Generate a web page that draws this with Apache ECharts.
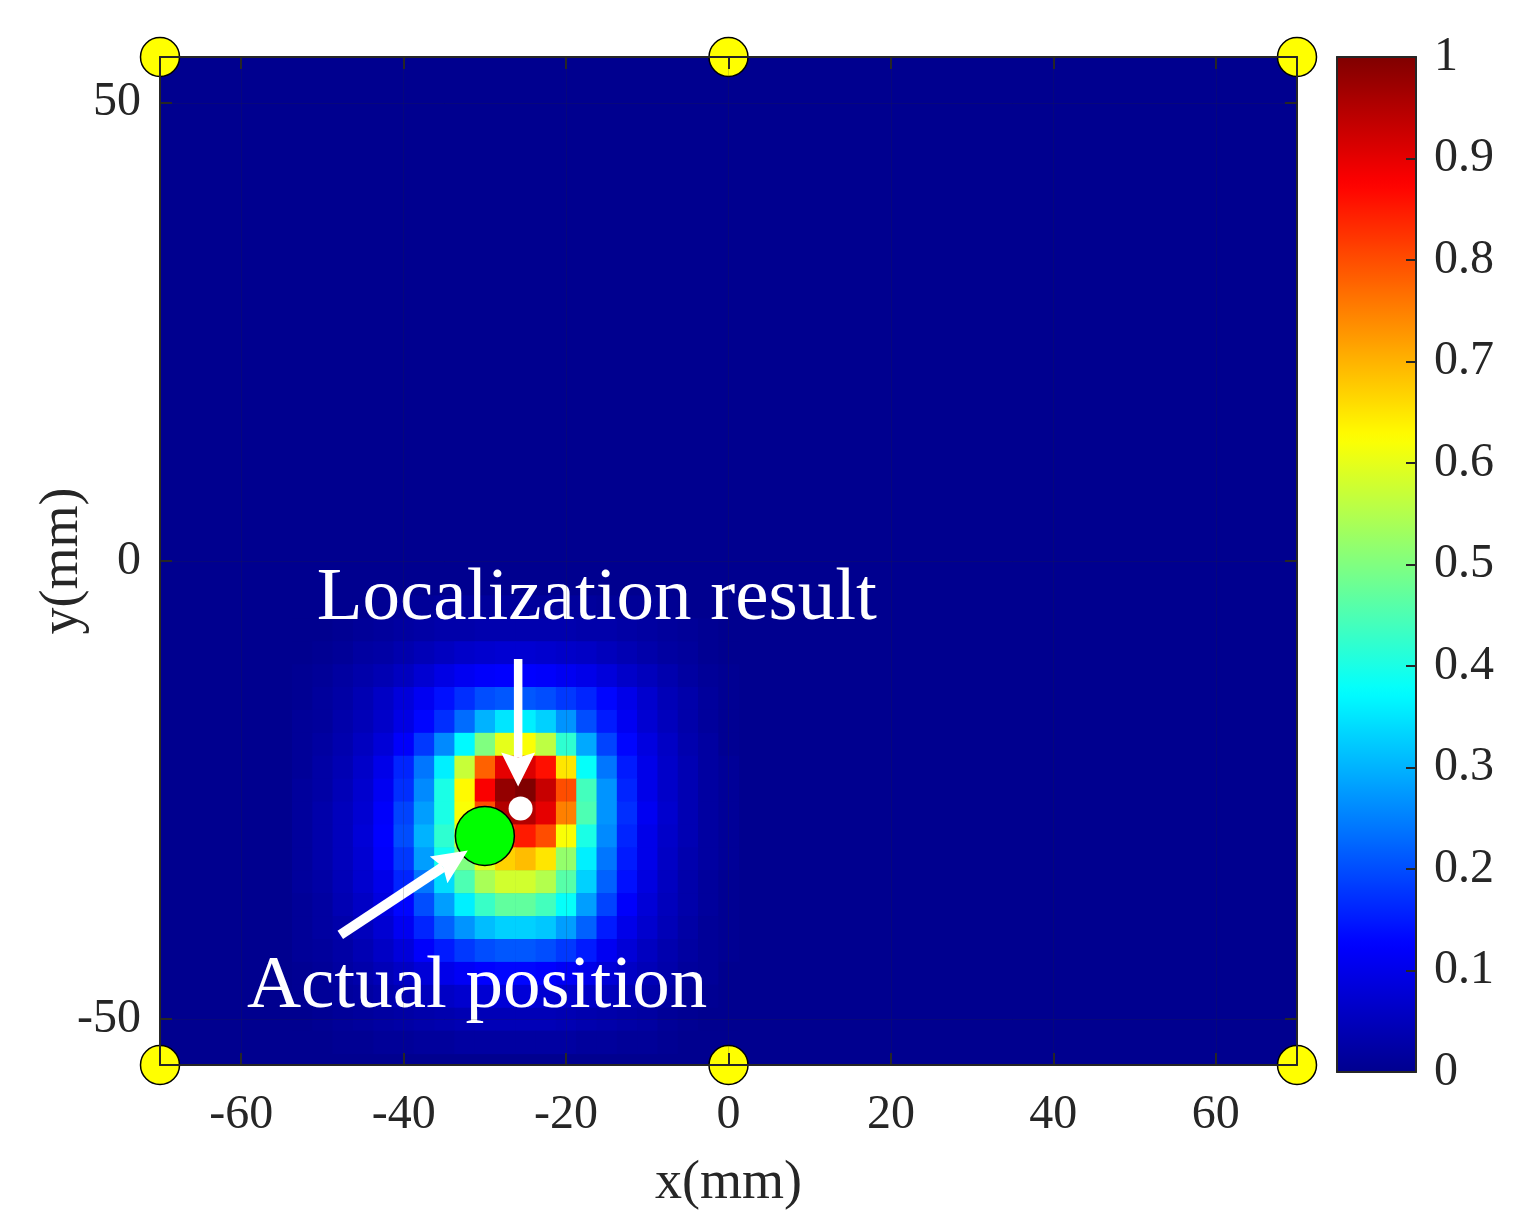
<!DOCTYPE html>
<html>
<head>
<meta charset="utf-8">
<script src="https://cdn.jsdelivr.net/npm/echarts@6/dist/echarts.min.js"></script>
<style>
html,body{margin:0;padding:0;background:#ffffff;}
#chart{width:1516px;height:1222px;}
</style>
</head>
<body>
<div id="chart"></div>
<script>
// ---------------- data ----------------
const cellStep = 2.5;
const cellX = [-52.5,-50,-47.5,-45,-42.5,-40,-37.5,-35,-32.5,-30,-27.5,-25,-22.5,-20,-17.5,-15,-12.5,-10,-7.5,-5,-2.5,0];
const cellY = [-5,-7.5,-10,-12.5,-15,-17.5,-20,-22.5,-25,-27.5,-30,-32.5,-35,-37.5,-40,-42.5,-45,-47.5,-50,-52.5];
const intensityRows = [
  [0,0,0,0,0.005,0.01,0.01,0.015,0.015,0.015,0.015,0.015,0.015,0.015,0.015,0.01,0.01,0.01,0.005,0,0,0],
  [0,0,0.005,0.01,0.015,0.02,0.025,0.03,0.03,0.035,0.035,0.035,0.035,0.035,0.03,0.03,0.025,0.02,0.015,0.01,0.005,0],
  [0,0.005,0.01,0.02,0.025,0.035,0.045,0.055,0.065,0.07,0.075,0.075,0.07,0.065,0.06,0.05,0.04,0.03,0.02,0.015,0.005,0],
  [0.005,0.01,0.02,0.03,0.04,0.055,0.075,0.095,0.11,0.12,0.125,0.125,0.12,0.11,0.1,0.085,0.065,0.05,0.035,0.02,0.01,0.005],
  [0.005,0.015,0.025,0.04,0.06,0.085,0.11,0.14,0.17,0.2,0.21,0.21,0.2,0.18,0.16,0.13,0.1,0.07,0.045,0.03,0.015,0.005],
  [0.01,0.015,0.03,0.045,0.065,0.095,0.13,0.17,0.23,0.3,0.35,0.36,0.33,0.27,0.2,0.15,0.11,0.075,0.05,0.03,0.015,0.005],
  [0.01,0.02,0.035,0.055,0.08,0.12,0.18,0.26,0.37,0.5,0.6,0.62,0.56,0.42,0.29,0.19,0.13,0.09,0.06,0.035,0.02,0.005],
  [0.01,0.025,0.04,0.065,0.1,0.16,0.24,0.36,0.57,0.78,0.9,0.91,0.86,0.65,0.38,0.24,0.15,0.1,0.065,0.04,0.02,0.01],
  [0.015,0.025,0.045,0.07,0.11,0.17,0.26,0.4,0.63,0.88,0.98,1.0,0.93,0.8,0.44,0.27,0.16,0.1,0.065,0.04,0.02,0.01],
  [0.015,0.03,0.05,0.075,0.12,0.19,0.28,0.4,0.62,0.8,0.95,0.95,0.9,0.75,0.45,0.27,0.17,0.11,0.07,0.04,0.02,0.01],
  [0.015,0.03,0.05,0.08,0.125,0.2,0.3,0.42,0.58,0.72,0.83,0.85,0.8,0.62,0.4,0.26,0.16,0.1,0.065,0.04,0.02,0.01],
  [0.015,0.03,0.05,0.075,0.12,0.18,0.28,0.39,0.5,0.6,0.67,0.69,0.65,0.52,0.36,0.24,0.15,0.1,0.06,0.035,0.02,0.01],
  [0.015,0.025,0.045,0.07,0.1,0.16,0.24,0.34,0.45,0.54,0.58,0.58,0.55,0.46,0.33,0.22,0.14,0.09,0.055,0.03,0.015,0.005],
  [0.01,0.02,0.04,0.06,0.09,0.13,0.2,0.28,0.36,0.43,0.47,0.47,0.44,0.38,0.28,0.19,0.12,0.08,0.05,0.03,0.015,0.005],
  [0.01,0.02,0.03,0.05,0.075,0.11,0.16,0.22,0.27,0.31,0.33,0.33,0.32,0.28,0.22,0.15,0.1,0.07,0.045,0.025,0.01,0.005],
  [0.01,0.015,0.025,0.04,0.06,0.085,0.12,0.15,0.18,0.2,0.21,0.21,0.2,0.18,0.15,0.11,0.08,0.055,0.035,0.02,0.01,0.005],
  [0.005,0.01,0.02,0.03,0.045,0.06,0.08,0.1,0.115,0.125,0.13,0.13,0.125,0.115,0.1,0.08,0.06,0.045,0.03,0.015,0.01,0],
  [0.005,0.01,0.015,0.02,0.03,0.04,0.05,0.06,0.07,0.075,0.08,0.08,0.075,0.07,0.06,0.05,0.04,0.03,0.02,0.01,0.005,0],
  [0,0.005,0.01,0.015,0.02,0.025,0.03,0.035,0.04,0.045,0.045,0.045,0.045,0.04,0.035,0.03,0.025,0.02,0.01,0.005,0,0],
  [0,0,0.005,0.005,0.01,0.01,0.015,0.015,0.02,0.02,0.02,0.02,0.02,0.02,0.015,0.015,0.01,0.01,0.005,0,0,0]
];
const xRange = [-70, 70];
const yRange = [-55, 55];
const xTicks = [-60,-40,-20,0,20,40,60];
const yTicks = [-50,0,50];
const colorRange = [0, 1];
const colorTickStep = 0.1;
const sensorX = [-70, 0, 70, -70, 0, 70];
const sensorY = [55, 55, 55, -55, -55, -55];
const actualPos = [-30, -30];
const estimatedPos = [-25.6, -27];
const arrowFromX = [-25.9, -47.8];
const arrowFromY = [-10.7, -40.8];
const arrowToX = [-25.9, -32.1];
const arrowToY = [-24.6, -31.6];
const noteText = ['Localization result', 'Actual position'];
const noteX = [-50.7, -59.3];
const noteY = [-4.15, -46.5];

// ---------------- styles ----------------
const FONT = '"Liberation Serif", "Times New Roman", serif';
const INK = '#262626';
const jet = ['#00008F','#0000FF','#0080FF','#00FFFF','#80FF80','#FFFF00','#FF8000','#FF0000','#800000'];
const arrowStyle = [
  {shaft: 8.5, headLen: 34, headWid: 34},
  {shaft: 10, headLen: 35, headWid: 32}
];

// ---------------- build series data ----------------
const heatData = [];
cellY.forEach((y, r) => {
  cellX.forEach((x, c) => heatData.push([x, y, intensityRows[r][c]]));
});
const sensorData = sensorX.map((x, i) => [x, sensorY[i]]);
const arrowData = arrowFromX.map((x, i) => [x, arrowFromY[i], arrowToX[i], arrowToY[i]]);
const noteData = noteX.map((x, i) => [x, noteY[i], i]);

const chart = echarts.init(document.getElementById('chart'), null, {renderer: 'canvas'});

const boxAxis = (extra) => Object.assign({
  type: 'value', z: 10, silent: true,
  axisLine: {show: true, onZero: false, lineStyle: {color: INK, width: 2}},
  axisTick: {show: false}, axisLabel: {show: false}, splitLine: {show: false}
}, extra);

const option = {
  animation: false,
  backgroundColor: '#ffffff',
  textStyle: {fontFamily: FONT},
  grid: [
    {left: 160, top: 57, width: 1137, height: 1008, show: true, backgroundColor: '#00008F', borderWidth: 0, outerBoundsMode: 'none'},
    {left: 1337, top: 57, width: 79, height: 1015, show: false, outerBoundsMode: 'none'}
  ],
  visualMap: {
    type: 'continuous', min: colorRange[0], max: colorRange[1], dimension: 2, seriesIndex: 0,
    orient: 'vertical', left: 1337, top: 57, itemWidth: 79, itemHeight: 1015, padding: 0,
    calculable: false, hoverLink: false, text: null, showLabel: false,
    inRange: {color: jet}
  },
  xAxis: [
    boxAxis({
      gridIndex: 0, position: 'bottom', min: xRange[0], max: xRange[1],
      axisTick: {show: true, inside: true, length: 12, customValues: xTicks, lineStyle: {color: INK, width: 2}},
      axisLabel: {show: true, customValues: xTicks, margin: 26, color: INK, fontSize: 48, fontFamily: FONT},
      splitLine: {show: true, lineStyle: {color: 'rgba(38,38,38,0.18)', width: 1}},
      name: 'x(mm)', nameLocation: 'middle', nameGap: 92, nameMoveOverlap: false,
      nameTextStyle: {color: INK, fontSize: 54, fontFamily: FONT}
    }),
    boxAxis({
      gridIndex: 0, position: 'top', min: xRange[0], max: xRange[1],
      axisTick: {show: true, inside: true, length: 12, customValues: xTicks, lineStyle: {color: INK, width: 2}}
    }),
    boxAxis({gridIndex: 1, position: 'bottom', min: 0, max: 1}),
    boxAxis({gridIndex: 1, position: 'top', min: 0, max: 1})
  ],
  yAxis: [
    boxAxis({
      gridIndex: 0, position: 'left', min: yRange[0], max: yRange[1],
      axisTick: {show: true, inside: true, length: 12, customValues: yTicks, lineStyle: {color: INK, width: 2}},
      axisLabel: {show: true, customValues: yTicks, margin: 19, color: INK, fontSize: 48, fontFamily: FONT},
      splitLine: {show: true, lineStyle: {color: 'rgba(38,38,38,0.18)', width: 1}},
      name: 'y(mm)', nameLocation: 'middle', nameGap: 70, nameMoveOverlap: false,
      nameTextStyle: {color: INK, fontSize: 54, fontFamily: FONT}
    }),
    boxAxis({
      gridIndex: 0, position: 'right', min: yRange[0], max: yRange[1],
      axisTick: {show: true, inside: true, length: 12, customValues: yTicks, lineStyle: {color: INK, width: 2}}
    }),
    boxAxis({gridIndex: 1, position: 'left', min: colorRange[0], max: colorRange[1]}),
    boxAxis({
      gridIndex: 1, position: 'right', min: colorRange[0], max: colorRange[1], interval: colorTickStep,
      axisTick: {show: true, inside: true, length: 10, lineStyle: {color: INK, width: 2}},
      axisLabel: {show: true, margin: 18, color: INK, fontSize: 48, fontFamily: FONT}
    })
  ],
  series: [
    {
      type: 'custom', name: 'intensity', coordinateSystem: 'cartesian2d', xAxisIndex: 0, yAxisIndex: 0,
      data: heatData, encode: {x: 0, y: 1}, clip: true, silent: true, z: 1,
      renderItem: function (params, api) {
        const x = api.value(0), y = api.value(1);
        const p0 = api.coord([x - cellStep / 2, y + cellStep / 2]);
        const p1 = api.coord([x + cellStep / 2, y - cellStep / 2]);
        return {
          type: 'rect',
          shape: {x: p0[0], y: p0[1], width: p1[0] - p0[0] + 0.6, height: p1[1] - p0[1] + 0.6},
          style: {fill: api.visual('color')}
        };
      }
    },
    {
      type: 'scatter', name: 'sensors', xAxisIndex: 0, yAxisIndex: 0, data: sensorData,
      symbol: 'circle', symbolSize: 39, clip: false, silent: true, z: 3,
      itemStyle: {color: '#FFFF00', borderColor: '#000000', borderWidth: 1.5, opacity: 1}
    },
    {
      type: 'scatter', name: 'actual', xAxisIndex: 0, yAxisIndex: 0, data: [actualPos],
      symbol: 'circle', symbolSize: 59, clip: false, silent: true, z: 4,
      itemStyle: {color: '#00FF00', borderColor: '#000000', borderWidth: 1.5, opacity: 1}
    },
    {
      type: 'scatter', name: 'estimate', xAxisIndex: 0, yAxisIndex: 0, data: [estimatedPos],
      symbol: 'circle', symbolSize: 24, clip: false, silent: true, z: 4,
      itemStyle: {color: '#FFFFFF', opacity: 1}
    },
    {
      type: 'custom', name: 'arrows', coordinateSystem: 'cartesian2d', xAxisIndex: 0, yAxisIndex: 0,
      data: arrowData, clip: false, silent: true, z: 5,
      renderItem: function (params, api) {
        const st = arrowStyle[params.dataIndex];
        const a = api.coord([api.value(0), api.value(1)]);
        const b = api.coord([api.value(2), api.value(3)]);
        const dx = b[0] - a[0], dy = b[1] - a[1], L = Math.hypot(dx, dy);
        const ux = dx / L, uy = dy / L, nx = -uy, ny = ux;
        const hw = st.headWid / 2, sw = st.shaft / 2;
        const baseX = b[0] - ux * st.headLen, baseY = b[1] - uy * st.headLen;
        const notchX = b[0] - ux * st.headLen * 0.85, notchY = b[1] - uy * st.headLen * 0.85;
        return {
          type: 'group',
          children: [
            {type: 'polygon', shape: {points: [
              [a[0] + nx * sw, a[1] + ny * sw], [notchX + nx * sw, notchY + ny * sw],
              [notchX - nx * sw, notchY - ny * sw], [a[0] - nx * sw, a[1] - ny * sw]
            ]}, style: {fill: '#FFFFFF'}},
            {type: 'polygon', shape: {points: [
              [b[0], b[1]], [baseX + nx * hw, baseY + ny * hw], [notchX, notchY], [baseX - nx * hw, baseY - ny * hw]
            ]}, style: {fill: '#FFFFFF'}}
          ]
        };
      }
    },
    {
      type: 'custom', name: 'notes', coordinateSystem: 'cartesian2d', xAxisIndex: 0, yAxisIndex: 0,
      data: noteData, clip: false, silent: true, z: 6,
      renderItem: function (params, api) {
        const p = api.coord([api.value(0), api.value(1)]);
        return {
          type: 'text', x: p[0], y: p[1],
          style: {text: noteText[api.value(2)], fill: '#FFFFFF', fontSize: 75, fontFamily: FONT, align: 'left', verticalAlign: 'middle'}
        };
      }
    }
  ]
};
chart.setOption(option);
</script>
</body>
</html>
